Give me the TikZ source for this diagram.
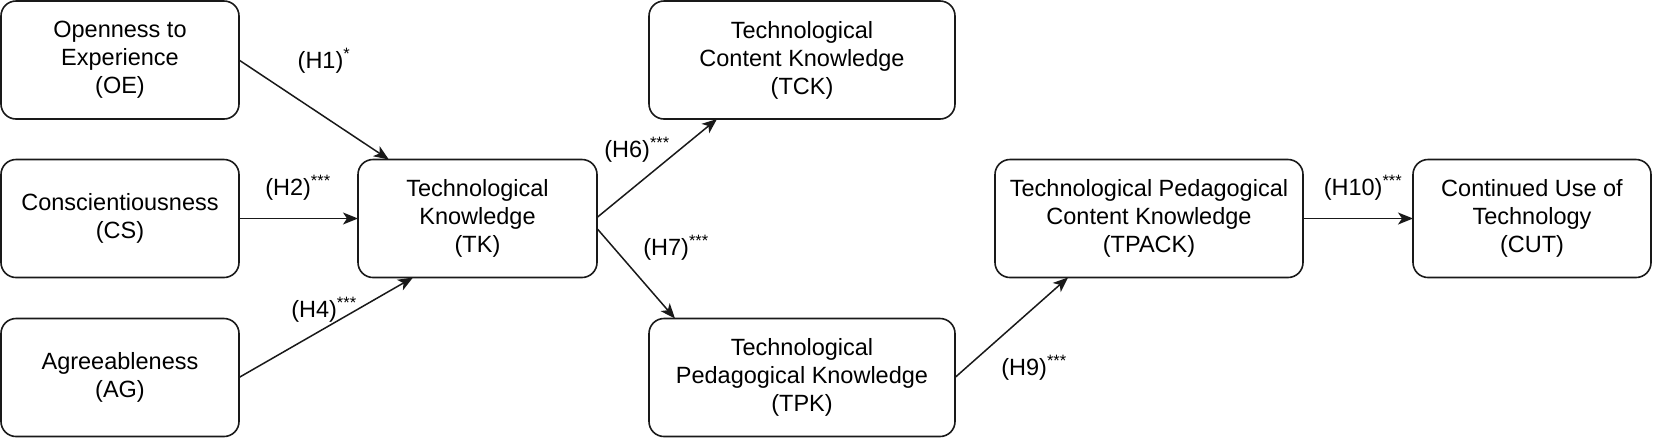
\documentclass[tikz,border=0pt]{standalone}
\usepackage{fontspec}
\setmainfont{Liberation Sans}
\usetikzlibrary{arrows.meta}
\tikzset{
  box/.style={draw=black!90, line width=1.6pt, rounded corners=15pt, align=center,
    inner sep=0pt, outer sep=0pt, minimum height=118pt,
    font=\fontsize{23.5}{28}\selectfont},
  lbl/.style={inner sep=0pt, font=\fontsize{23.5}{28}\selectfont},
  arr/.style={line width=1.5pt, draw=black!90, -{Stealth[length=15pt,width=12pt,inset=4pt]}}
}
\begin{document}
\begin{tikzpicture}[x=1pt,y=-1pt]
\useasboundingbox (0,0) rectangle (1654,440);
\node[box, minimum width=238pt] (OE) at (120,60) {Openness to\\Experience\\(OE)};
\node[box, minimum width=238pt] (CS) at (120,218.5) {Conscientiousness\\(CS)};
\node[box, minimum width=238pt] (AG) at (120,377.5) {Agreeableness\\(AG)};
\node[box, minimum width=239pt] (TK) at (477.5,218.5) {Technological\\Knowledge\\(TK)};
\node[box, minimum width=306pt] (TCK) at (802,60) {Technological\\Content Knowledge\\(TCK)};
\node[box, minimum width=306pt] (TPK) at (802,377.5) {Technological\\Pedagogical Knowledge\\(TPK)};
\node[box, minimum width=308pt] (TPACK) at (1149,218.5) {Technological Pedagogical\\Content Knowledge\\(TPACK)};
\node[box, minimum width=238pt] (CUT) at (1532,218.5) {Continued Use of\\Technology\\(CUT)};

\draw[arr] (OE.east) -- (TK);
\draw[arr] (CS.east) -- (TK.west);
\draw[arr] (AG.east) -- ([xshift=55pt]TK.south west);
\draw[arr] ([yshift=1pt]TK.east) -- ([xshift=68pt]TCK.south west);
\draw[arr] ([yshift=-10pt]TK.east) -- ([xshift=26pt]TPK.north west);
\draw[arr] (TPK.east) -- ([xshift=73pt]TPACK.south west);
\draw[arr] (TPACK.east) -- (CUT.west);

\node[lbl] (h1) at (324,61) {(H1)\textsuperscript{*}};
\node[lbl] (h2) at (298,188) {(H2)\textsuperscript{***}};
\node[lbl] (h4) at (324,310) {(H4)\textsuperscript{***}};
\node[lbl] (h6) at (637,150) {(H6)\textsuperscript{***}};
\node[lbl] (h7) at (676,248) {(H7)\textsuperscript{***}};
\node[lbl] (h9) at (1034,368) {(H9)\textsuperscript{***}};
\node[lbl] (h10) at (1363,188) {(H10)\textsuperscript{***}};
\end{tikzpicture}
\end{document}
